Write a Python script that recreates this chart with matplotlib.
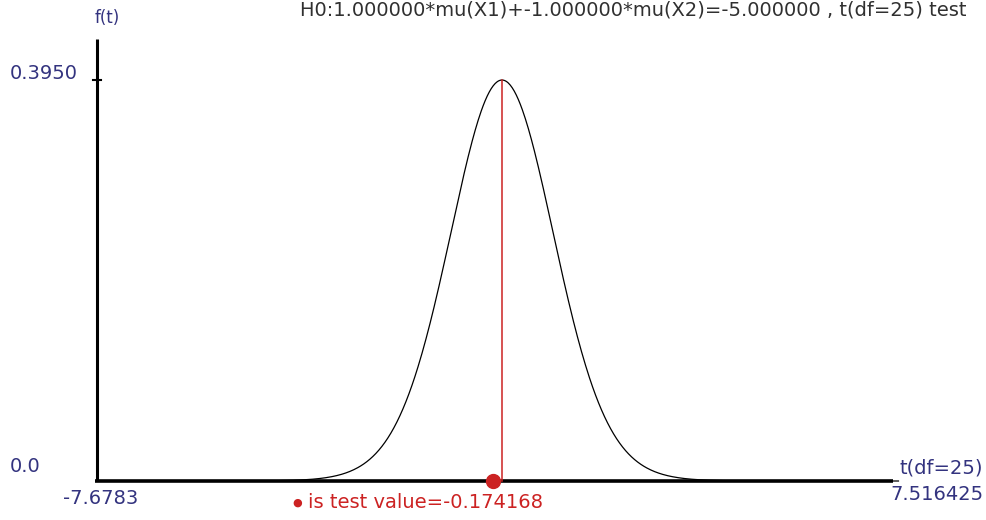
import math
import numpy as np
import matplotlib
matplotlib.use("Agg")
import matplotlib.pyplot as plt

# t distribution under H0
df = 25
t_lo, t_hi = -7.6783, 7.516425
peak_label = 0.3950
test_value = -0.174168
title = "H0:1.000000*mu(X1)+-1.000000*mu(X2)=-5.000000 , t(df=25) test"
y_label = "f(t)"
x_label = "t(df=25)"
test_label = "is test value=-0.174168"

W, H = 986, 520
navy = "#33337f"
red = "#cc2222"


def t_pdf(t, nu):
    c = math.exp(math.lgamma((nu + 1) / 2) - math.lgamma(nu / 2)) / math.sqrt(nu * math.pi)
    return c * (1 + t ** 2 / nu) ** (-(nu + 1) / 2)


fig = plt.figure(figsize=(W / 100, H / 100), dpi=100)
fig.set_facecolor("white")
ax = fig.add_axes([0, 0, 1, 1])
ax.set_axis_off()

# pixel anchors: t=t_lo at x=97, t=0 at x=502 ; f=0 at y=481, f=peak at y=80
x0_px, xl_px = 502, 97
sx = (x0_px - xl_px) / (0 - t_lo)
y0_px, yp_px = 481, 80
sy = (y0_px - yp_px) / peak_label
ax.set_xlim(-x0_px / sx, (W - x0_px) / sx)
ax.set_ylim(-(H - y0_px) / sy, y0_px / sy)

y_top = (y0_px - 39) / sy

# axes
ax.plot([t_lo, t_lo], [0, y_top], color="black", lw=2.2, solid_capstyle="butt")
ax.plot([t_lo - 2 / sx, t_hi - 5 / sx], [0, 0], color="black", lw=2.6, solid_capstyle="butt")
ax.plot([t_lo - 4 / sx, t_lo + 4 / sx], [peak_label, peak_label], color="black", lw=1.5)

# density curve
t = np.linspace(t_lo, t_hi, 800)
ax.plot(t, t_pdf(t, df), color="black", lw=0.9)

# mean line and test value
ax.plot([0, 0], [0, t_pdf(0.0, df)], color=red, lw=1.1)
ax.plot([test_value], [0], "o", color=red, ms=10, zorder=5)


def px(x, y):
    return x / W, 1 - y / H


fs = 14
fam = ["DejaVu Sans"]
fig.text(*px(300, 10), title, color="#303030", fontsize=fs, family=fam, va="center", ha="left")
fig.text(*px(95, 18), y_label, color=navy, fontsize=fs - 2, family=fam, va="center", ha="left")
fig.text(*px(10, 74), f"{peak_label:.4f}", color=navy, fontsize=fs, family=fam, va="center", ha="left")
fig.text(*px(10, 467), "0.0", color=navy, fontsize=fs, family=fam, va="center", ha="left")
fig.text(*px(63, 499), f"{t_lo}", color=navy, fontsize=fs, family=fam, va="center", ha="left")
fig.text(*px(983, 468), x_label, color=navy, fontsize=fs, family=fam, va="center", ha="right")
fig.text(*px(983, 495), f"{t_hi}", color=navy, fontsize=fs, family=fam, va="center", ha="right")
fig.text(*px(297, 503), "\u25cf", color=red, fontsize=8, family=fam, va="center", ha="center")
fig.text(*px(308, 503), test_label, color=red, fontsize=fs, family=fam, va="center", ha="left")

fig.savefig("out.png", dpi=100, facecolor="white")
